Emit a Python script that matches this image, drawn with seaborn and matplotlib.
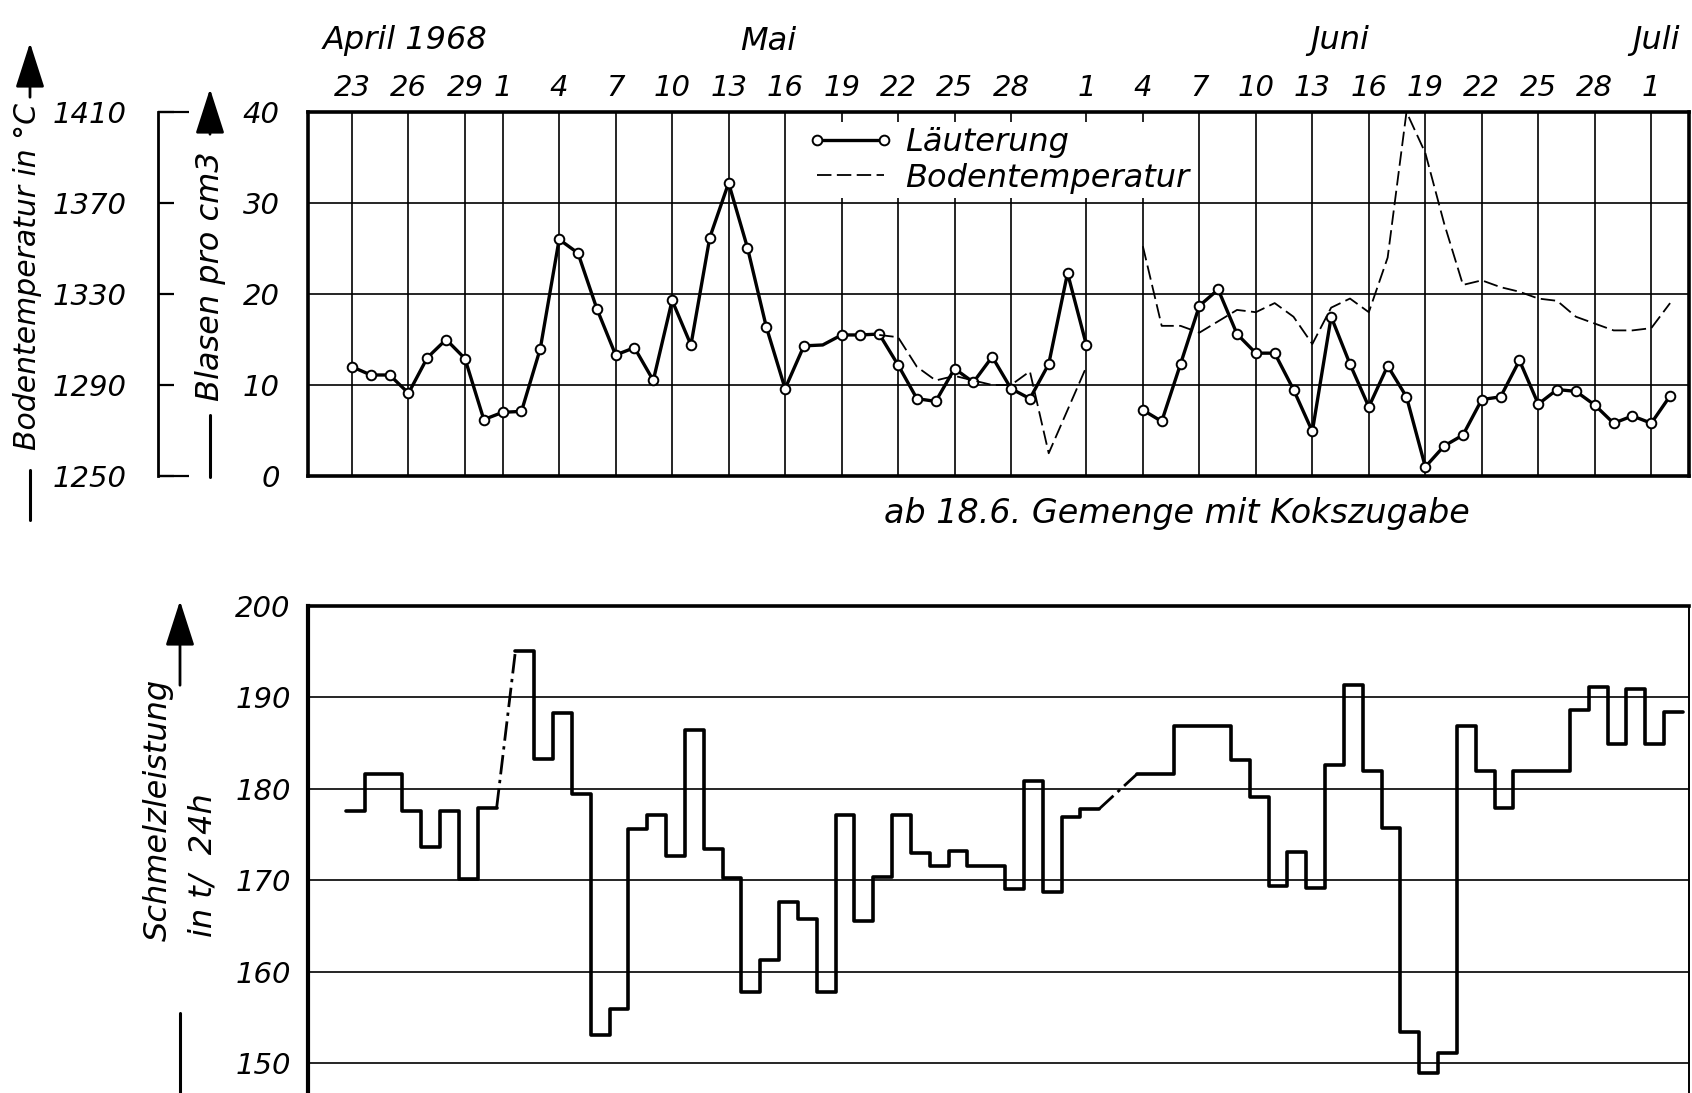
import numpy as np
import pandas as pd
import matplotlib
matplotlib.use("Agg")
import matplotlib.pyplot as plt
import seaborn as sns
from matplotlib.lines import Line2D

# ------------------------------------------------------------------ data
# day number = days after 22 April 1968 (1 = 23 April ... 71 = 2 July)
days = list(range(1, 72))
nan = np.nan

# Läuterung, Blasen pro cm3 (daily)
laeuterung = [12.0, 11.1, 11.1, 9.1, 13.0, 15.0, 12.9, 6.2, 7.0, 7.1,
              14.0, 26.0, 24.5, 18.4, 13.3, 14.1, 10.5, 19.3, 14.4, 26.2,
              32.2, 25.1, 16.4, 9.6, 14.3, 14.4, 15.5, 15.5, 15.6, 12.2,
              8.5, 8.2, 11.8, 10.3, 13.1, 9.6, 8.5, 12.3, 22.3, 14.4,
              nan, nan, 7.25, 6.0, 12.3, 18.7, 20.5, 15.6, 13.5, 13.5,
              9.5, 4.9, 17.5, 12.3, 7.6, 12.1, 8.7, 1.0, 3.3, 4.5,
              8.4, 8.7, 12.7, 7.9, 9.5, 9.3, 7.8, 5.8, 6.6, 5.8, 8.8]
laeut_unmarked_days = [26]

# Bodentemperatur in °C (two measured stretches)
boden_days_1 = list(range(29, 41))
boden_temp_1 = [1312, 1311, 1298, 1292, 1294, 1292, 1290, 1290, 1296, 1260,
                1279, 1298]
boden_days_2 = list(range(43, 72))
boden_temp_2 = [1351, 1316, 1316, 1313, 1318, 1323, 1322, 1326, 1320, 1308,
                1324, 1328, 1322, 1346, 1410, 1392, 1361, 1334, 1336, 1333,
                1331, 1328, 1327, 1320, 1317, 1314, 1314, 1315, 1326]

# Schmelzleistung in t / 24 h (daily)
schmelz = [177.6, 181.6, 181.6, 177.6, 173.6, 177.6, 170.1, 177.9, nan, 195.1,
           183.3, 188.3, 179.4, 153.1, 155.9, 175.6, 177.1, 172.7, 186.4, 173.4,
           170.2, 157.8, 161.3, 167.6, 165.8, 157.8, 177.1, 165.5, 170.4, 177.1,
           173.0, 171.5, 173.2, 171.5, 171.5, 169.0, 180.9, 168.7, 176.9, 177.8,
           nan, nan, 181.6, 181.6, 186.9, 186.9, 186.9, 183.2, 179.1, 169.4,
           173.1, 169.2, 182.6, 191.4, 181.9, 175.7, 153.4, 148.9, 151.1, 186.9,
           181.9, 177.9, 181.9, 181.9, 181.9, 188.6, 191.1, 184.9, 190.9, 184.9,
           188.4]

tick_days = [1, 4, 7, 9, 12, 15, 18, 21, 24, 27, 30, 33, 36, 40, 43, 46, 49,
             52, 55, 58, 61, 64, 67, 70]
tick_labels = ["23", "26", "29", "1", "4", "7", "10", "13", "16", "19", "22",
               "25", "28", "1", "4", "7", "10", "13", "16", "19", "22", "25",
               "28", "1"]
blasen_ticks = [0, 10, 20, 30, 40]
temp_ticks = [1250, 1290, 1330, 1370, 1410]
schmelz_ticks = [150, 160, 170, 180, 190, 200]

# ------------------------------------------------------------------ style
sns.set_style("white")
plt.rcParams["font.family"] = ["DejaVu Sans"]
plt.rcParams["font.style"] = "oblique"
plt.rcParams["text.color"] = "black"
plt.rcParams["axes.edgecolor"] = "black"
plt.rcParams["xtick.color"] = "black"
plt.rcParams["ytick.color"] = "black"

W, H = 1692, 1093
fig = plt.figure(figsize=(W / 100, H / 100), dpi=100)
fig.patch.set_facecolor("white")


def fx(px):
    return px / W


def fy(py):
    return 1 - py / H


PX_DAY = 18.83


def d_at(px):
    return 1 + (px - 352) / PX_DAY


L, R = 307.5, 1689.0
TICK_FS = 21
LAB_FS = 23

# ------------------------------------------------------------------ top chart
ax = fig.add_axes([fx(L), fy(476), (R - L) / W, (476 - 112) / H])
ax.set_facecolor("white")

df_l = pd.DataFrame({"day": days, "blasen": laeuterung})
df_l["run"] = df_l["blasen"].isna().cumsum()
df_l = df_l.dropna()
sns.lineplot(data=df_l, x="day", y="blasen", units="run", estimator=None,
             color="black", lw=2.4, ax=ax, legend=False, zorder=3)
df_mk = df_l[~df_l["day"].isin(laeut_unmarked_days)]
sns.scatterplot(data=df_mk, x="day", y="blasen", marker="o", s=48,
                color="white", edgecolor="black", linewidth=1.4, ax=ax,
                legend=False, zorder=4)

ax.set_xlim(d_at(L), d_at(R))
ax.set_ylim(0, 40)
ax.set_xticks(tick_days)
ax.set_xticklabels(tick_labels)
ax.xaxis.tick_top()
ax.set_yticks(blasen_ticks)
ax.set_yticklabels([str(t) for t in blasen_ticks])
ax.tick_params(axis="x", length=0, pad=7, labelsize=TICK_FS)
ax.tick_params(axis="y", length=0, pad=20, labelsize=TICK_FS)
ax.grid(True, color="black", lw=1.2)
ax.set_xlabel("")
ax.set_ylabel("")
for s in ax.spines.values():
    s.set_linewidth(2.6)
    s.set_color("black")

# temperature scale on a twin axis (bracket left of the Blasen scale)
ax2 = ax.twinx()
df_b = pd.concat([
    pd.DataFrame({"day": boden_days_1, "temp": boden_temp_1, "run": 1}),
    pd.DataFrame({"day": boden_days_2, "temp": boden_temp_2, "run": 2}),
])
sns.lineplot(data=df_b, x="day", y="temp", units="run", estimator=None,
             color="black", lw=1.3, linestyle=(0, (8, 3)), ax=ax2,
             legend=False)
ax2.set_ylim(1250, 1410)
ax2.set_xlim(d_at(L), d_at(R))
ax2.yaxis.set_ticks_position("left")
ax2.spines["left"].set_position(("outward", 150 * 72 / 100))
for k in ["top", "right", "bottom"]:
    ax2.spines[k].set_visible(False)
ax2.spines["left"].set_visible(True)
ax2.spines["left"].set_linewidth(2.0)
ax2.set_yticks(temp_ticks)
ax2.set_yticklabels([str(t) for t in temp_ticks])
ax2.yaxis.set_minor_locator(matplotlib.ticker.FixedLocator([1250, 1410]))
ax2.yaxis.remove_overlapping_locs = False
ax2.tick_params(axis="y", which="major", direction="in", length=11.5,
                width=1.6, pad=22, labelsize=TICK_FS)
ax2.tick_params(axis="y", which="minor", direction="in", length=22,
                width=1.6)
ax2.set_ylabel("")
ax2.set_xlabel("")
ax2.grid(False)

h1 = Line2D([0, 1], [0, 0], color="black", lw=2.4, marker="o", mfc="white",
            mec="black", ms=7, mew=1.4)
h2 = Line2D([0, 1], [0, 0], color="black", lw=1.3, linestyle=(0, (8, 3)))
leg = ax2.legend([h1, h2], ["Läuterung", "Bodentemperatur"], loc="upper left",
                 bbox_to_anchor=(fx(803), fy(122)),
                 bbox_transform=fig.transFigure, frameon=True, fancybox=False,
                 edgecolor="none", facecolor="white", framealpha=1,
                 fontsize=LAB_FS, handlelength=2.7, handletextpad=0.35,
                 borderpad=0.15, labelspacing=0.15, numpoints=2,
                 borderaxespad=0)

# ------------------------------------------------------------------ bottom chart
BOT_PX = 1154.4
axb = fig.add_axes([fx(L), fy(BOT_PX), (R - L) / W, (BOT_PX - 606) / H])
axb.set_facecolor("white")

STEP_START = -0.32
step_rows = []
conn_rows = []
run_id = 0
prev = None  # (day, value) of last valid day
cur = []
for d, v in zip(days, schmelz):
    if np.isnan(v):
        if cur:
            run_id += 1
            for dd, vv in cur:
                step_rows.append((run_id, dd + STEP_START, vv))
            step_rows.append((run_id, cur[-1][0] + 1 + STEP_START, cur[-1][1]))
            prev = cur[-1]
            cur = []
        continue
    if not cur and prev is not None:
        conn_rows.append((run_id, prev[0] + 1 + STEP_START, prev[1]))
        conn_rows.append((run_id, d + STEP_START, v))
    cur.append((d, v))
if cur:
    run_id += 1
    for dd, vv in cur:
        step_rows.append((run_id, dd + STEP_START, vv))
    step_rows.append((run_id, cur[-1][0] + 1 + STEP_START, cur[-1][1]))

df_s = pd.DataFrame(step_rows, columns=["run", "x", "y"])
df_c = pd.DataFrame(conn_rows, columns=["run", "x", "y"])
sns.lineplot(data=df_s, x="x", y="y", units="run", estimator=None,
             drawstyle="steps-post", color="black", lw=2.6, ax=axb,
             legend=False, zorder=3)
sns.lineplot(data=df_c, x="x", y="y", units="run", estimator=None,
             color="black", lw=2.0, linestyle=(0, (7, 2, 1.2, 2)), ax=axb,
             legend=False, zorder=3)

axb.set_xlim(d_at(L), d_at(R))
axb.set_ylim(140, 200)
axb.set_xticks([])
axb.set_yticks(schmelz_ticks)
axb.set_yticklabels([str(t) for t in schmelz_ticks])
axb.tick_params(axis="y", length=0, pad=12, labelsize=TICK_FS)
axb.grid(True, axis="y", color="black", lw=1.2)
axb.set_xlabel("")
axb.set_ylabel("")
axb.spines["top"].set_linewidth(2.6)
axb.spines["left"].set_linewidth(3.0)
axb.spines["right"].set_linewidth(1.4)
axb.spines["bottom"].set_linewidth(1.4)

# ------------------------------------------------------------------ texts
fig.text(fx(323), fy(41), "April 1968", fontsize=LAB_FS, ha="left", va="center")
fig.text(fx(768), fy(41), "Mai", fontsize=LAB_FS, ha="center", va="center")
fig.text(fx(1340), fy(41), "Juni", fontsize=LAB_FS, ha="center", va="center")
fig.text(fx(1656), fy(41), "Juli", fontsize=LAB_FS, ha="center", va="center")
fig.text(fx(1177), fy(513), "ab 18.6. Gemenge mit Kokszugabe", fontsize=24,
         ha="center", va="center")

fig.text(fx(28), fy(276), "Bodentemperatur in °C", fontsize=21.5,
         rotation=90, ha="center", va="center")
fig.text(fx(210), fy(276), "Blasen pro cm3", fontsize=LAB_FS,
         rotation=90, ha="center", va="center")
fig.text(fx(158), fy(810), "Schmelzleistung", fontsize=LAB_FS,
         rotation=90, ha="center", va="center")
fig.text(fx(203), fy(865), "in t/  24h", fontsize=LAB_FS,
         rotation=90, ha="center", va="center")


def arrow_up(x, y_tail, y_tip):
    fig.add_artist(matplotlib.patches.FancyArrowPatch(
        (fx(x), fy(y_tail)), (fx(x), fy(y_tip)), transform=fig.transFigure,
        arrowstyle="-|>,head_length=1.4,head_width=0.45", mutation_scale=20,
        lw=2.0, color="black"))


def vline(x, y0, y1, lw=2.2):
    fig.add_artist(Line2D([fx(x), fx(x)], [fy(y0), fy(y1)],
                          transform=fig.transFigure, color="black", lw=lw))


arrow_up(30, 100, 40)
vline(30, 470, 520)
arrow_up(210, 137, 86)
vline(210, 415, 477)
arrow_up(180, 688, 598)
vline(180, 1013, 1093)

fig.savefig("out.png", dpi=100, facecolor="white")
